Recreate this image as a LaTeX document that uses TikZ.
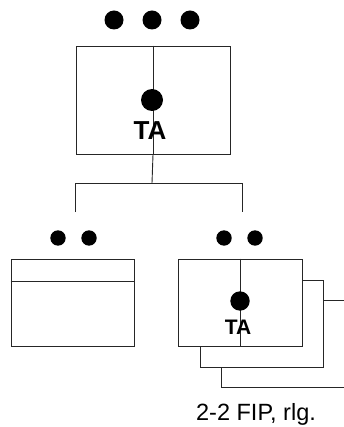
\documentclass[tikz,border=0pt]{standalone}
\usepackage{fontspec}
\setmainfont{Liberation Sans}
\begin{document}
\begin{tikzpicture}[x=1pt,y=-1pt,
  box/.style={draw=black!85,line width=0.9pt},
  ln/.style={draw=black!85,line width=0.9pt},
  dot/.style={fill=black}]
\useasboundingbox (0,0) rectangle (343,427);
% top
\fill[dot] (114,20) circle (9.5);
\fill[dot] (152,20) circle (9.5);
\fill[dot] (190,20) circle (9.5);
\node[box,minimum width=154pt,minimum height=108pt,inner sep=0pt] (top) at (153,100) {};
\draw[ln] (top.north) -- (top.south);
\fill[dot] (152,100) circle (11);
\node[font=\bfseries\fontsize{26}{26}\selectfont,inner sep=0pt] (ta1) at (150,131) {TA};
% connectors
\coordinate (hj) at (152,183);
\coordinate (hl) at (75,183);
\coordinate (hr) at (242,183);
\coordinate (dl) at (75,212);
\coordinate (dr) at (242,212);
\draw[ln] (top.south) -- (hj);
\draw[ln] (dl) -- (hl) -- (hr) -- (dr);
% bottom left
\fill[dot] (58,238) circle (7.7);
\fill[dot] (89,238) circle (7.7);
\node[box,minimum width=123pt,minimum height=87pt,inner sep=0pt] (bl) at (72.5,302.5) {};
\draw[ln] (bl.west |- 0,281) -- (bl.east |- 0,281);
% bottom right
\fill[dot] (224,238) circle (7.7);
\fill[dot] (255,238) circle (7.7);
\draw[ln] (302,280) -- (323,280) -- (323,367) -- (200,367) -- (200,346);
\draw[ln] (323,300) -- (346,300);
\draw[ln] (221,367) -- (221,387) -- (346,387);
\node[box,fill=white,minimum width=124pt,minimum height=87pt,inner sep=0pt] (br) at (240,302.5) {};
\draw[ln] (br.north) -- (br.south);
\fill[dot] (240,301) circle (9.7);
\node[font=\bfseries\fontsize{21}{21}\selectfont,inner sep=0pt] (ta2) at (238,327) {TA};
% caption
\node[font=\fontsize{23.5}{23.5}\selectfont,inner sep=0pt,anchor=base] (cap) at (256,420) {2-2 FIP, rlg.};
\end{tikzpicture}
\end{document}
